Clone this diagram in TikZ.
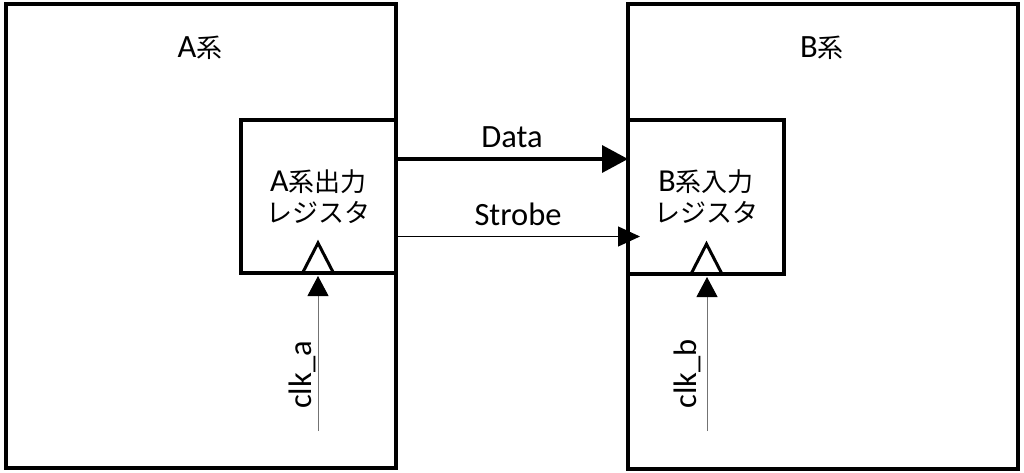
\documentclass[tikz,border=0pt]{standalone}
\usepackage{fontspec}
\setmainfont{Carlito}
\newfontfamily\cjk{Noto Sans CJK JP}
\usetikzlibrary{arrows.meta,calc}
\newcommand\jp[1]{{\cjk\fontsize{26}{31}\selectfont #1}}
\begin{document}
\begin{tikzpicture}[x=1pt,y=-1pt,
  box/.style={draw, line width=3.5pt, rectangle, inner sep=0pt, outer sep=0pt},
  reg/.style={box, align=center, font=\fontsize{32}{31}\selectfont},
  lbl/.style={font=\fontsize{32.5}{31}\selectfont, inner sep=0pt},
  clkmark/.style={draw, line width=3pt, line join=miter},
  busarrow/.style={line width=3.5pt, -{Triangle[length=26pt,width=27pt]}},
  sigarrow/.style={line width=1.2pt, -{Triangle[length=22pt,width=20pt]}},
  clkarrow/.style={line width=1pt, black!55, -{Triangle[length=20pt,width=21pt,color=black]}, shorten >=3pt}]
\useasboundingbox (0,0) rectangle (1024,473);
% systems
\node[box, minimum width=390pt, minimum height=464pt] (sysA) at (201,236) {};
\node[box, minimum width=390pt, minimum height=465pt] (sysB) at (823,236.5) {};
\node[lbl] (tA) at (200,48) {A\jp{系}};
\node[lbl] (tB) at (822,48) {B\jp{系}};
% registers
\node[reg, minimum width=155pt, minimum height=153pt] (regA) at (318.5,196.5) {A\jp{系出力}\\\jp{レジスタ}};
\node[reg, minimum width=156pt, minimum height=154pt] (regB) at (706,197) {B\jp{系入力}\\\jp{レジスタ}};
% clock marks
\draw[clkmark] ($(regA.south)+(-16,0)$) -- ++(15.5,-30) -- ++(15.5,30);
\draw[clkmark] ($(regB.south)+(-15,0)$) -- ++(15.5,-30) -- ++(15.5,30);
% data and strobe
\coordinate (dY) at (0,159);
\coordinate (sE) at (640,236.5);
\draw[busarrow] (regA.east |- dY) -- node[lbl, above=10pt] (lData) {Data} (regB.west |- dY);
\draw[sigarrow] (regA.east |- sE) -- node[lbl, above=10pt] (lStrobe) {Strobe} (sE);
% clocks
\coordinate (cA) at (318,431);
\coordinate (cB) at (707,431);
\draw[clkarrow] (cA) -- (cA |- regA.south);
\draw[clkarrow] (cB) -- (cB |- regB.south);
\node[lbl, rotate=90, anchor=south] (lclkA) at (316,375) {clk\_a};
\node[lbl, rotate=90, anchor=south] (lclkB) at (701,374) {clk\_b};
\end{tikzpicture}
\end{document}
